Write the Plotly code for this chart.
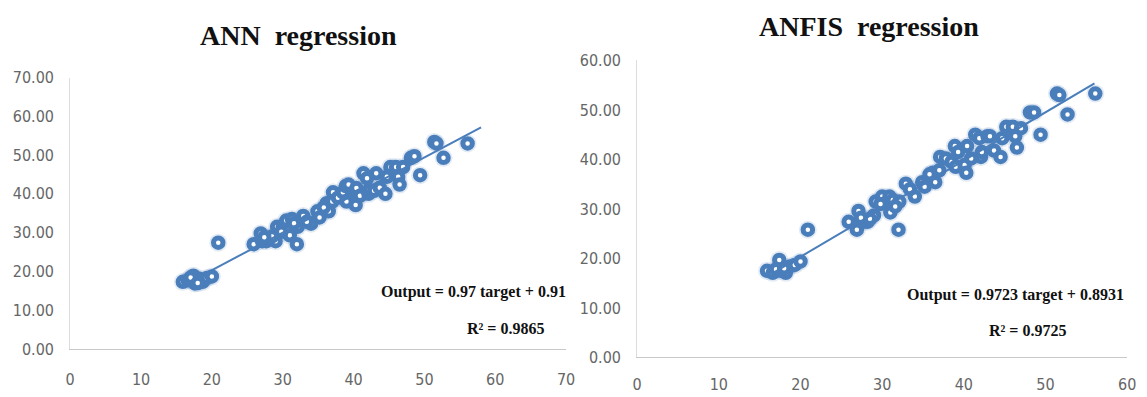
import plotly.graph_objects as go

# Measured target values and model outputs (same targets for both models)
target = [15.9, 16.6, 17.4, 17.6, 18.2, 18.7, 19.3, 20.0, 20.9, 25.9,
          26.9, 27.1, 27.7, 28.2, 29.0, 29.2, 30.0, 30.5, 30.9, 31.0,
          31.3, 32.1, 32.0, 32.9, 34.0, 34.9, 35.2, 36.2, 36.5, 37.1,
          37.0, 37.8, 38.5, 38.9, 39.0, 39.3, 40.1, 40.3, 40.4, 40.9,
          41.4, 41.9, 42.1, 42.2, 42.9, 43.2, 43.7, 44.5, 44.7, 45.2,
          46.0, 46.3, 46.5, 47.0, 48.1, 48.6, 49.4, 51.4, 51.7, 52.7,
          56.1, 28.5, 29.8, 31.6, 33.4, 35.8, 17.0, 18.0, 27.4]
ann_output = [17.3, 17.7, 18.9, 16.9, 18.1, 17.3, 18.3, 18.7, 27.4, 27.0,
              29.8, 27.8, 27.8, 28.6, 27.8, 31.5, 31.5, 33.1, 30.7, 29.3,
              33.5, 31.5, 27.0, 34.3, 32.3, 35.5, 33.9, 37.6, 35.5, 40.4,
              38.0, 39.0, 40.4, 42.0, 38.0, 42.4, 40.4, 37.1, 41.5, 39.5,
              45.3, 44.0, 40.0, 41.0, 40.8, 45.3, 41.6, 40.0, 44.4, 46.9,
              46.9, 44.4, 42.4, 46.9, 49.3, 49.7, 44.8, 53.4, 53.0, 49.3,
              53.0, 29.0, 30.2, 32.4, 32.8, 36.5, 18.4, 17.0, 28.8]
anfis_output = [17.5, 17.1, 19.7, 17.5, 17.1, 18.4, 18.7, 19.4, 25.8, 27.4,
                25.8, 29.6, 27.4, 27.4, 28.7, 31.5, 32.5, 31.2, 32.5, 29.3,
                31.8, 31.5, 25.8, 35.1, 32.5, 35.4, 34.5, 37.3, 35.4, 40.5,
                37.8, 40.2, 39.5, 42.7, 38.5, 41.5, 38.9, 37.3, 42.7, 40.2,
                45.0, 44.3, 40.5, 41.5, 44.7, 44.7, 41.8, 40.5, 44.3, 46.6,
                46.6, 44.7, 42.4, 46.3, 49.5, 49.5, 45.0, 53.3, 53.0, 49.1,
                53.3, 28.0, 31.0, 30.5, 34.0, 37.0, 17.8, 18.0, 28.2]

# Linear fits reported on the charts
ann_slope, ann_intercept, ann_r2 = 0.97, 0.91, 0.9865
anfis_slope, anfis_intercept, anfis_r2 = 0.9723, 0.8931, 0.9725
ann_fit_x = [16.5, 58.0]
anfis_fit_x = [16.5, 56.0]

ann_yticks = [0, 10, 20, 30, 40, 50, 60, 70]
ann_xticks = [0, 10, 20, 30, 40, 50, 60, 70]
anfis_yticks = [0, 10, 20, 30, 40, 50, 60]
anfis_xticks = [0, 10, 20, 30, 40, 50, 60]

BLUE = "#4a7ebb"
W, H = 1147, 397

fig = go.Figure()


def add_panel(xs, ys, fit_x, slope, intercept, xa, ya):
    # soft halo under the markers
    fig.add_trace(go.Scatter(
        x=xs, y=ys, mode="markers", xaxis=xa, yaxis=ya, hoverinfo="skip",
        marker=dict(size=18, color="rgba(74,126,187,0.16)", line=dict(width=0)),
        showlegend=False))
    fig.add_trace(go.Scatter(
        x=xs, y=ys, mode="markers", xaxis=xa, yaxis=ya,
        marker=dict(size=9.5, color="white", line=dict(color=BLUE, width=5)),
        showlegend=False))
    fig.add_trace(go.Scatter(
        x=fit_x, y=[slope * v + intercept for v in fit_x], mode="lines",
        xaxis=xa, yaxis=ya, line=dict(color=BLUE, width=2), showlegend=False))


add_panel(target, ann_output, ann_fit_x, ann_slope, ann_intercept, "x", "y")
add_panel(target, anfis_output, anfis_fit_x, anfis_slope, anfis_intercept, "x2", "y2")

tick_font = dict(family="Liberation Sans Narrow, DejaVu Sans Condensed, sans-serif",
                 size=16, color="#666666")


def xaxis(dom, ticks, rng, anchor, standoff):
    return dict(domain=dom, range=rng, tickvals=ticks, ticktext=[str(t) for t in ticks],
                showgrid=False, zeroline=False, showline=True, linecolor="#c8c8c8",
                linewidth=1, ticks="", tickfont=tick_font, anchor=anchor,
                ticklabelstandoff=standoff, fixedrange=True)


def yaxis(dom, ticks, rng, anchor):
    return dict(domain=dom, range=rng, tickvals=ticks,
                ticktext=[f"{t:.2f}" for t in ticks],
                showgrid=False, zeroline=False, showline=True, linecolor="#dcdcdc",
                linewidth=1, ticks="", tickfont=tick_font, anchor=anchor,
                ticklabelstandoff=12, fixedrange=True)


fig.update_layout(
    width=W, height=H, margin=dict(l=0, r=0, t=0, b=0),
    paper_bgcolor="white", plot_bgcolor="white",
    xaxis=xaxis([66 / W, 568 / W], ann_xticks, [0, 70], "y", 16),
    yaxis=yaxis([(H - 357) / H, (H - 72) / H], ann_yticks, [0, 70], "x"),
    xaxis2=xaxis([640 / W, 1136 / W], anfis_xticks, [0, 60], "y2", 12),
    yaxis2=yaxis([(H - 366) / H, (H - 54) / H], anfis_yticks, [0, 60], "x2"),
)

title_font = dict(family="Liberation Serif, Times New Roman, serif", size=28, color="#111111")
eq_font = dict(family="Liberation Serif, Times New Roman, serif", size=16, color="#111111")

annotations = [
    dict(text="<b>ANN\u00a0 regression</b>", x=297 / W, y=1 - 28 / H, font=title_font),
    dict(text="<b>ANFIS\u00a0 regression</b>", x=875 / W, y=1 - 18 / H, font=title_font),
    dict(text=f"<b>Output = {ann_slope:.2f} target + {ann_intercept:.2f}</b>",
         x=570 / W, y=1 - 297 / H, xanchor="right", font=eq_font),
    dict(text=f"<b>R² = {ann_r2:.4f}</b>", x=507 / W, y=1 - 336 / H, font=eq_font),
    dict(text=f"<b>Output = {anfis_slope:.4f} target + {anfis_intercept:.4f}</b>",
         x=1135 / W, y=1 - 300 / H, xanchor="right", font=eq_font),
    dict(text=f"<b>R² = {anfis_r2:.4f}</b>", x=1035 / W, y=1 - 338 / H, font=eq_font),
]
for a in annotations:
    a.setdefault("xanchor", "center")
    a.update(xref="paper", yref="paper", yanchor="middle", showarrow=False)
fig.update_layout(annotations=annotations)

fig.write_html("out.html")
